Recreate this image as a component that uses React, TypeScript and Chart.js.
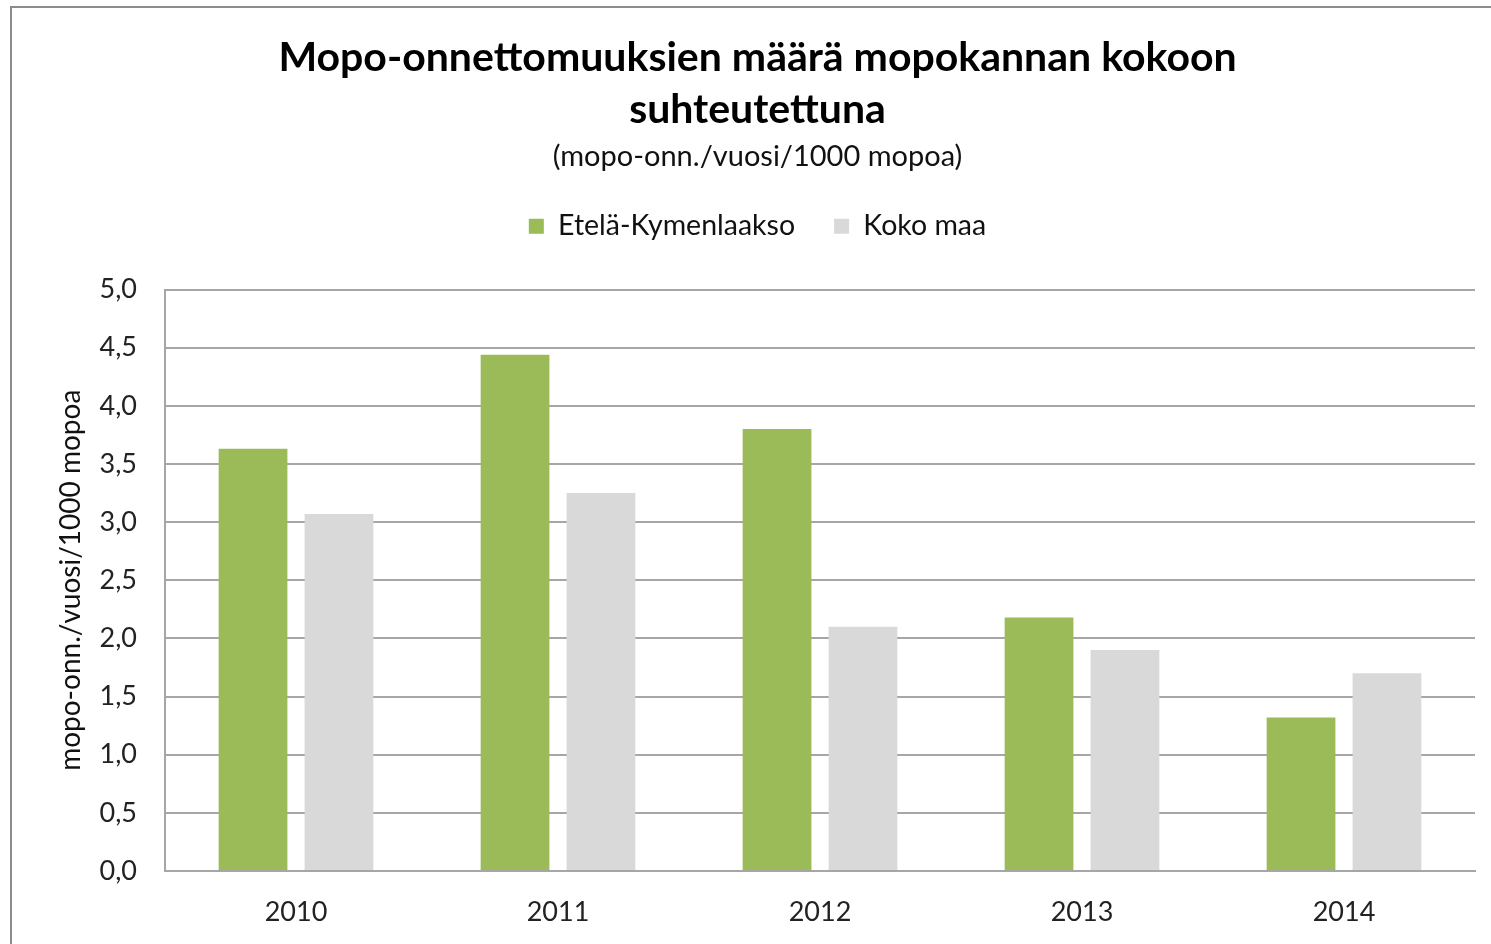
import React, { useEffect, useRef } from "react";
import { Chart, registerables, layouts } from "chart.js";

Chart.register(...registerables);

const categories = ["2010", "2011", "2012", "2013", "2014"];
const seriesNames = ["Etelä-Kymenlaakso", "Koko maa"];
const etelaKymenlaakso = [3.63, 4.44, 3.8, 2.18, 1.32];
const kokoMaa = [3.07, 3.25, 2.1, 1.9, 1.7];
const titleLines = ["Mopo-onnettomuuksien määrä mopokannan kokoon", "suhteutettuna"];
const subtitleText = "(mopo-onn./vuosi/1000 mopoa)";
const yAxisTitle = "mopo-onn./vuosi/1000 mopoa";

const FONT = "Lato, 'Open Sans', sans-serif";

const spacerPlugin = {
  id: "legendSpacer",
  beforeInit(chart: any) {
    const box: any = {
      position: "top",
      weight: 500,
      fullSize: true,
      options: { stack: undefined, stackWeight: 1 },
      top: 0,
      left: 0,
      right: 0,
      bottom: 0,
      width: 0,
      height: 0,
      isHorizontal() {
        return true;
      },
      update(maxWidth: number) {
        this.width = maxWidth;
        this.height = 39;
      },
      draw() {},
    };
    layouts.addBox(chart, box);
  },
};

export default function App() {
  const canvasRef = useRef<HTMLCanvasElement | null>(null);

  useEffect(() => {
    if (!canvasRef.current) return;
    const chart = new Chart(canvasRef.current, {
      type: "bar",
      data: {
        labels: categories,
        datasets: [
          {
            label: seriesNames[0],
            data: etelaKymenlaakso,
            backgroundColor: "#9BBB59",
            borderWidth: 0,
            categoryPercentage: 0.656,
            barPercentage: 0.8,
          },
          {
            label: seriesNames[1],
            data: kokoMaa,
            backgroundColor: "#D9D9D9",
            borderWidth: 0,
            categoryPercentage: 0.656,
            barPercentage: 0.8,
          },
        ],
      },
      options: {
        responsive: false,
        animation: false,
        devicePixelRatio: 1,
        layout: { padding: { left: 40, right: 16, top: 0, bottom: 0 } },
        plugins: {
          title: {
            display: true,
            text: titleLines,
            color: "#000000",
            font: { family: FONT, size: 41, weight: "bold", lineHeight: "52px" },
            padding: { top: 32, bottom: 0 },
          },
          subtitle: {
            display: true,
            text: subtitleText,
            color: "#111111",
            font: { family: FONT, size: 29, lineHeight: "30px" },
            padding: { top: 6, bottom: 1 },
          },
          legend: {
            display: true,
            position: "top",
            labels: {
              boxWidth: 15,
              boxHeight: 15,
              padding: 39,
              color: "#111111",
              font: { family: FONT, size: 28.5 },
            },
          },
          tooltip: { enabled: false },
        },
        scales: {
          x: {
            grid: { display: false, drawTicks: false },
            border: { display: true, color: "#A6A6A6", width: 2 },
            ticks: {
              color: "#222222",
              font: { family: FONT, size: 27 },
              padding: 25,
            },
            afterFit(scale: any) {
              scale.height = 73;
            },
          },
          y: {
            min: 0,
            max: 5,
            grid: { color: "#A6A6A6", lineWidth: 2, drawTicks: false },
            border: { display: true, color: "#A6A6A6", width: 2 },
            ticks: {
              stepSize: 0.5,
              color: "#222222",
              font: { family: FONT, size: 27 },
              padding: 28,
              callback: (v: any) => Number(v).toFixed(1).replace(".", ","),
            },
            title: {
              display: true,
              text: yAxisTitle,
              color: "#111111",
              font: { family: FONT, size: 28 },
              padding: { top: 14, bottom: 0 },
            },
            afterFit(scale: any) {
              scale.width = 125;
            },
          },
        },
      },
      plugins: [spacerPlugin],
    } as any);
    return () => chart.destroy();
  }, []);

  return (
    <div
      style={{
        position: "fixed",
        left: 0,
        top: 0,
        width: 1491,
        height: 944,
        overflow: "hidden",
        background: "#ffffff",
      }}
    >
      <div
        style={{
          position: "absolute",
          left: 10,
          top: 6,
          width: 1600,
          height: 1100,
          border: "2px solid #8C8C8C",
          boxSizing: "border-box",
        }}
      />
      <canvas
        ref={canvasRef}
        width={1491}
        height={944}
        style={{ position: "absolute", left: 0, top: 0 }}
      />
    </div>
  );
}
